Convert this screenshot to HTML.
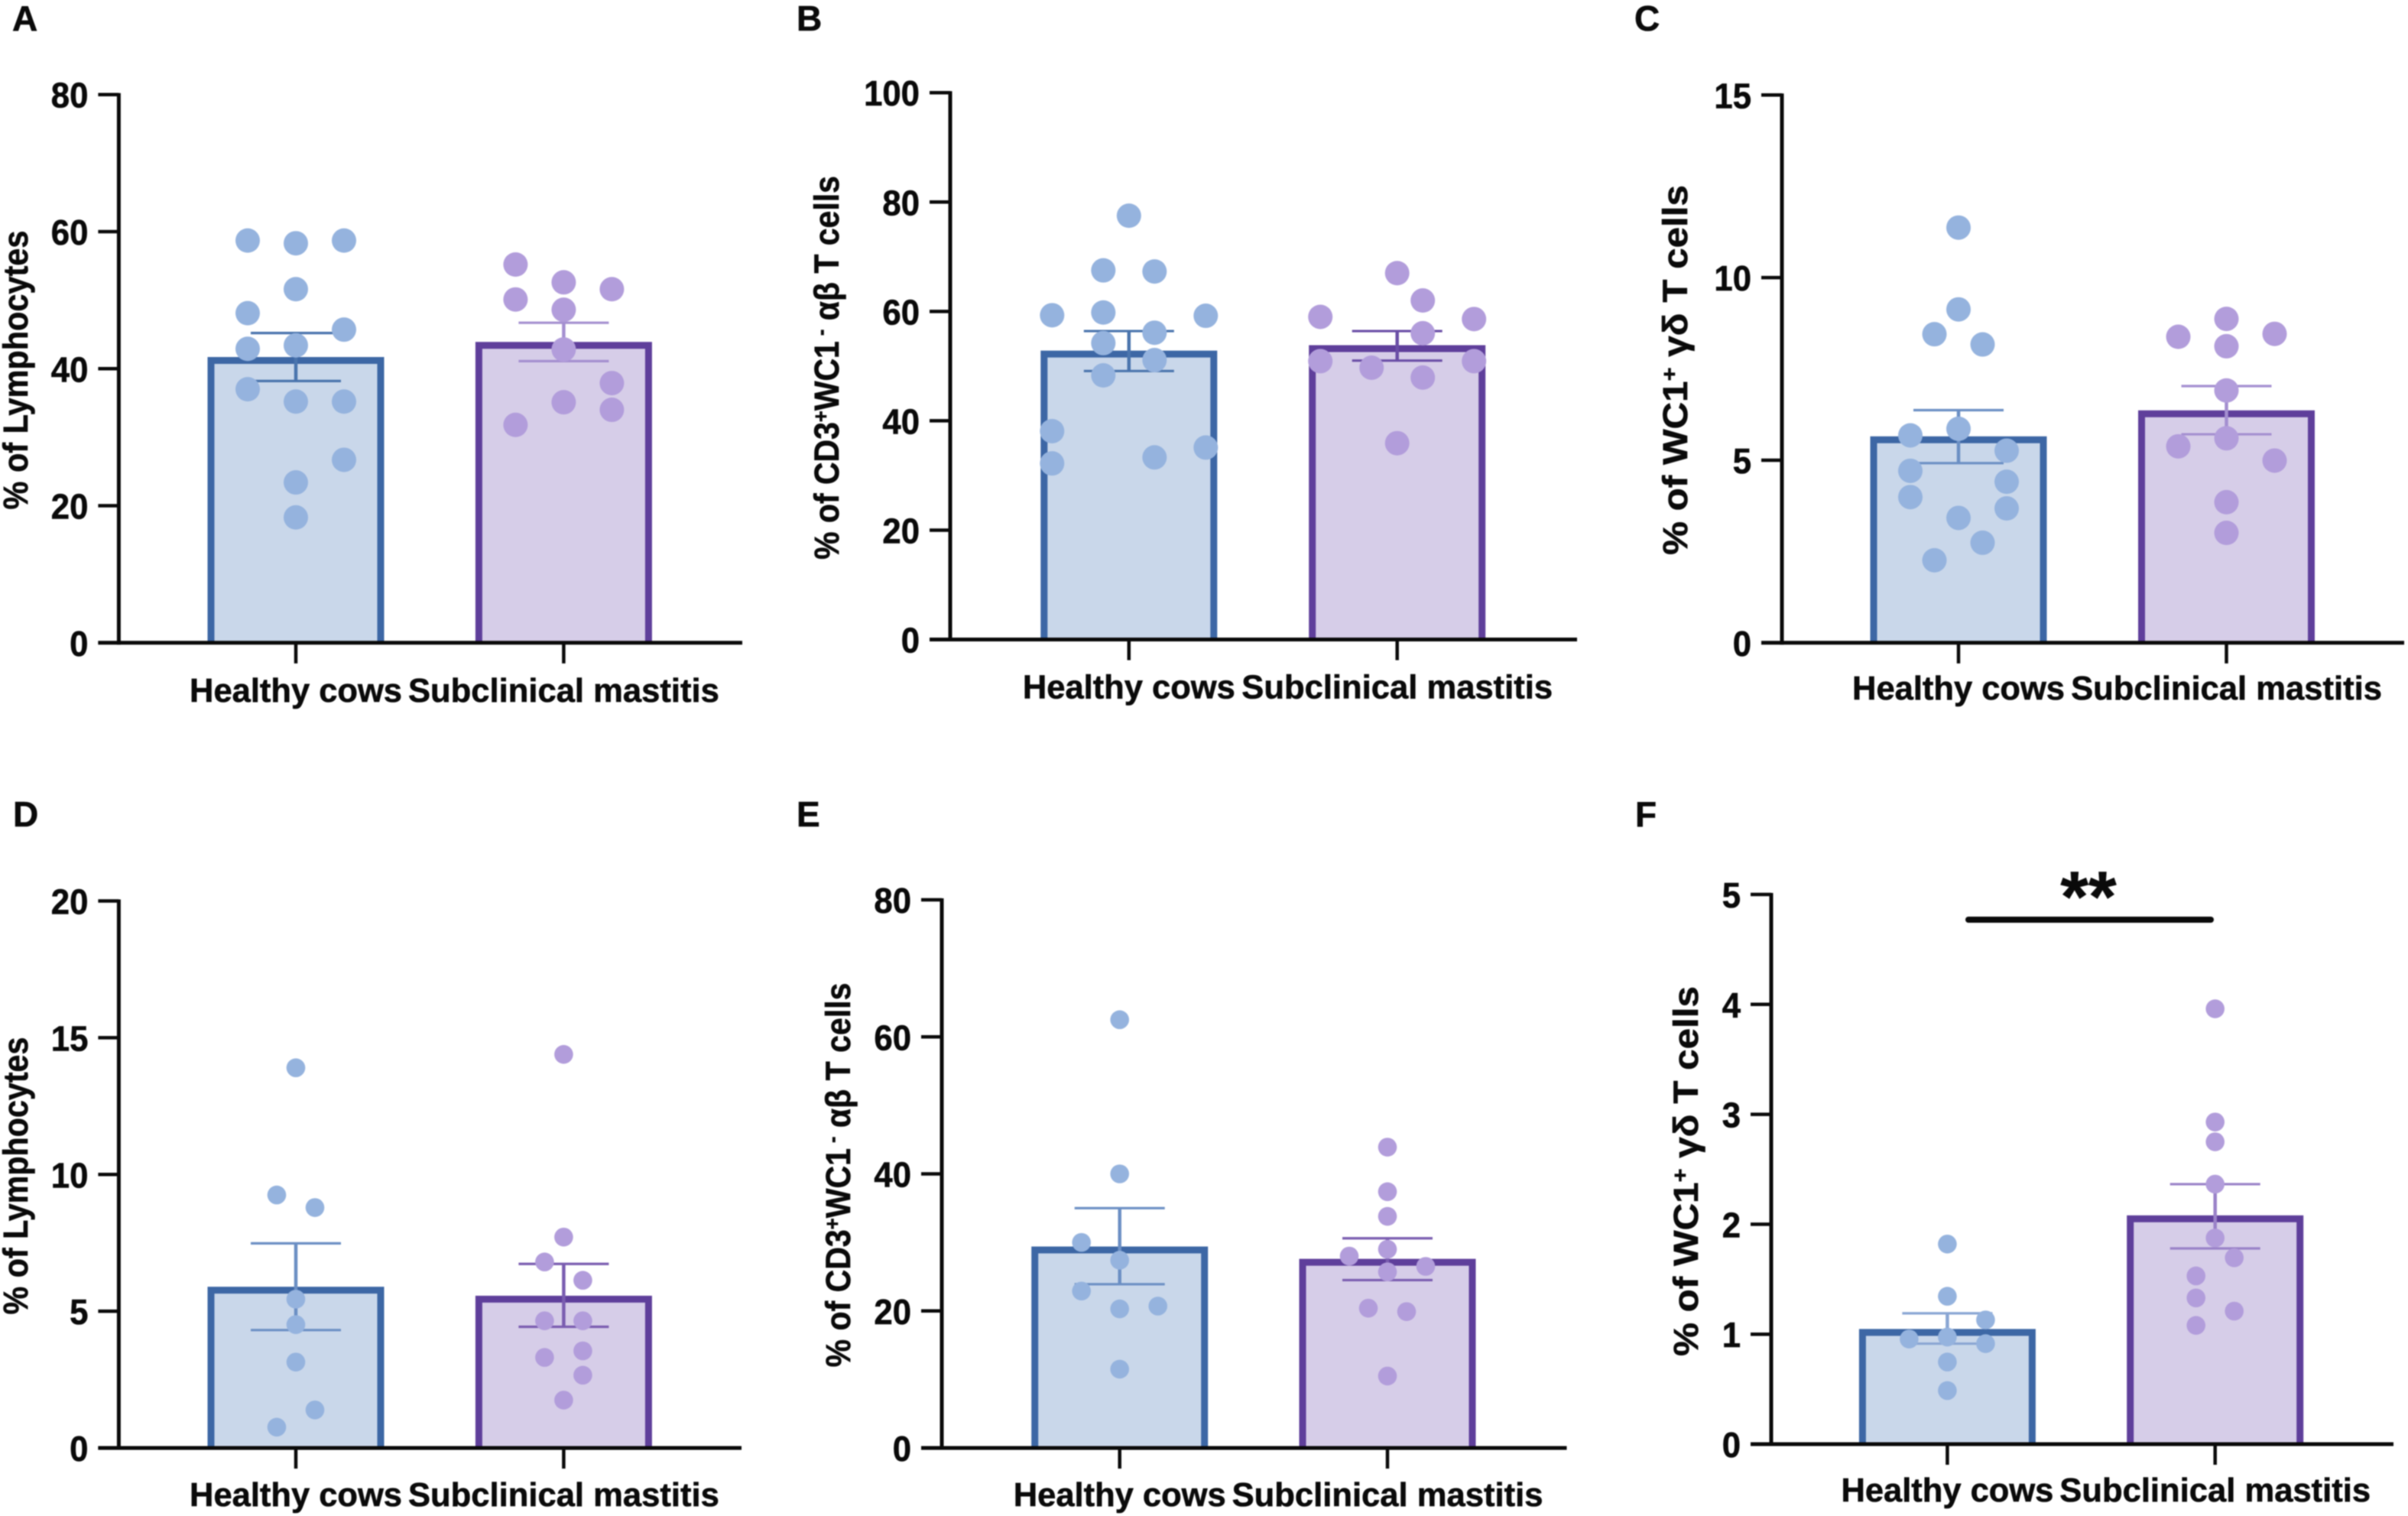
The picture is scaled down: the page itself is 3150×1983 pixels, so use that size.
<!DOCTYPE html>
<html lang="en">
<head>
<meta charset="utf-8">
<title>T cell percentages in healthy cows and subclinical mastitis</title>
<style>
html,body{margin:0;padding:0;background:#fff;}
body{width:3150px;height:1983px;overflow:hidden;}
svg{display:block;filter:blur(0.8px);}
text{font-family:"Liberation Sans",Arial,sans-serif;font-weight:700;fill:#0a0a0a;stroke:#0a0a0a;stroke-width:0.6px;}
.letter{font-size:46px;}
.ytitle{font-size:45px;}
.sup{font-size:28px;}
</style>
</head>
<body>
<svg id="figure" width="3150" height="1983" viewBox="0 0 3150 1983" xmlns="http://www.w3.org/2000/svg">
  <rect width="3150" height="1983" fill="#ffffff"/>

  <text class="letter" x="16" y="40">A</text>
  <text class="letter" x="1042" y="40">B</text>
  <text class="letter" x="2138" y="40">C</text>
  <text class="letter" x="17" y="1081">D</text>
  <text class="letter" x="1042" y="1081">E</text>
  <text class="letter" x="2139" y="1081">F</text>

  <text class="ytitle" data-fit="365" text-anchor="middle" transform="translate(36,484) rotate(-90)">% of Lymphocytes</text>
  <text class="ytitle" data-fit="502" text-anchor="middle" transform="translate(1097,481) rotate(-90)">% of CD3<tspan class="sup" dy="-14">+</tspan><tspan dy="14">WC1</tspan><tspan class="sup" dy="-14"> -</tspan><tspan dy="14"> αβ T cells</tspan></text>
  <text class="ytitle" data-fit="484" text-anchor="middle" transform="translate(2207,484) rotate(-90)">% of WC1<tspan class="sup" dy="-14">+</tspan><tspan dy="14"> γδ T cells</tspan></text>
  <text class="ytitle" data-fit="363" text-anchor="middle" transform="translate(36,1538) rotate(-90)">% of Lymphocytes</text>
  <text class="ytitle" data-fit="503" text-anchor="middle" transform="translate(1112,1537) rotate(-90)">% of CD3<tspan class="sup" dy="-14">+</tspan><tspan dy="14">WC1</tspan><tspan class="sup" dy="-14"> -</tspan><tspan dy="14"> αβ T cells</tspan></text>
  <text class="ytitle" data-fit="484" text-anchor="middle" transform="translate(2221,1532) rotate(-90)">% of WC1<tspan class="sup" dy="-14">+</tspan><tspan dy="14"> γδ T cells</tspan></text>

  <line x1="2575" y1="1203" x2="2892" y2="1203" stroke="#0a0a0a" stroke-width="8" stroke-linecap="round"/>
  <text x="2732" y="1205" text-anchor="middle" font-size="94">**</text>
</svg>

<script>
const categories = ['Healthy cows', 'Subclinical mastitis'];

const panelA_ticks = [0, 20, 40, 60, 80];
const panelA_means = [41.2, 43.4];
const panelA_errHigh = [45.2, 46.7];
const panelA_errLow = [38.2, 41.1];
const panelA_healthy = [58.7, 58.3, 58.7, 51.6, 48.1, 45.7, 42.9, 43.4, 37, 35.2, 35.2, 26.7, 23.4, 18.3];
const panelA_healthySlots = [-1, 0, 1, 0, -1, 1, -1, 0, -1, 0, 1, 1, 0, 0];
const panelA_mastitis = [55.2, 52.6, 51.6, 50.1, 48.6, 42.8, 37.9, 35.1, 34, 31.8];
const panelA_mastitisSlots = [-1, 0, 1, -1, 0, 0, 1, 0, 1, -1];

const panelB_ticks = [0, 20, 40, 60, 80, 100];
const panelB_means = [52.2, 53.2];
const panelB_errHigh = [56.4, 56.4];
const panelB_errLow = [49.1, 51];
const panelB_healthy = [77.5, 67.5, 67.3, 59.3, 59.8, 59.2, 56.1, 54.2, 51.1, 48.3, 38.1, 32.2, 35.1, 33.3];
const panelB_healthySlots = [0, -1, 1, -3, -1, 3, 1, -1, 1, -1, -3, -3, 3, 1];
const panelB_mastitis = [67, 62, 59, 58.6, 56, 50.9, 50.9, 49.7, 47.9, 35.9];
const panelB_mastitisSlots = [0, 1, -3, 3, 1, -3, 3, -1, 1, 0];

const panelC_ticks = [0, 5, 10, 15];
const panelC_means = [5.56, 6.27];
const panelC_errHigh = [6.37, 7.03];
const panelC_errLow = [4.92, 5.71];
const panelC_healthy = [11.37, 9.13, 8.45, 8.17, 5.86, 5.68, 5.26, 4.71, 4.41, 3.99, 3.68, 3.42, 2.74, 2.26];
const panelC_healthySlots = [0, 0, -1, 1, 0, -2, 2, -2, 2, -2, 2, 0, 1, -1];
const panelC_mastitis = [8.87, 8.46, 8.38, 8.12, 6.91, 5.6, 5.38, 4.99, 3.85, 3.01];
const panelC_mastitisSlots = [0, 2, -2, 0, 0, 0, -2, 2, 0, 0];

const panelD_ticks = [0, 5, 10, 15, 20];
const panelD_means = [5.77, 5.44];
const panelD_errHigh = [7.48, 6.73];
const panelD_errLow = [4.31, 4.43];
const panelD_healthy = [13.9, 9.25, 8.79, 5.44, 4.51, 3.14, 1.39, 0.76];
const panelD_healthySlots = [0, -1, 1, 0, 0, 0, 1, -1];
const panelD_mastitis = [14.39, 7.71, 6.8, 6.13, 4.65, 4.65, 3.55, 3.31, 2.66, 1.75];
const panelD_mastitisSlots = [0, 0, -1, 1, -1, 1, 1, -1, 1, 0];

const panelE_ticks = [0, 20, 40, 60, 80];
const panelE_means = [28.9, 27.1];
const panelE_errHigh = [35, 30.6];
const panelE_errLow = [23.9, 24.5];
const panelE_healthy = [62.5, 40, 30, 27.4, 22.9, 20.7, 20.3, 11.5];
const panelE_healthySlots = [0, 0, -2, 0, -2, 2, 0, 0];
const panelE_mastitis = [43.9, 37.4, 33.8, 29, 28, 26.5, 25.7, 20.4, 19.9, 10.5];
const panelE_mastitisSlots = [0, 0, 0, 0, -2, 2, 0, -1, 1, 0];

const panelF_ticks = [0, 1, 2, 3, 4, 5];
const panelF_means = [1.016, 2.05];
const panelF_errHigh = [1.19, 2.365];
const panelF_errLow = [0.914, 1.78];
const panelF_healthy = [1.82, 1.345, 1.13, 0.956, 0.974, 0.914, 0.747, 0.487];
const panelF_healthySlots = [0, 0, 2, -2, 0, 2, 0, 0];
const panelF_mastitis = [3.96, 2.93, 2.75, 2.365, 1.875, 1.695, 1.53, 1.33, 1.21, 1.08];
const panelF_mastitisSlots = [0, 0, 0, 0, 0, 1, -1, -1, 1, -1];

const panels = [
  {id:'a', left:155.4, top:123.7, bottom:840.8, right:971, centers:[387,737.4], slot:63, r:16, labelDy:77, errColors:['#4a74ad','#a48fd0'],
   ticks:panelA_ticks, means:panelA_means, high:panelA_errHigh, low:panelA_errLow,
   points:[panelA_healthy,panelA_mastitis], slots:[panelA_healthySlots,panelA_mastitisSlots]},
  {id:'b', left:1243, top:121.2, bottom:836.5, right:2063, centers:[1476.8,1827.7], slot:33.5, r:16, labelDy:77, errColors:['#4a74ad','#6a4ea6'],
   ticks:panelB_ticks, means:panelB_means, high:panelB_errHigh, low:panelB_errLow,
   points:[panelB_healthy,panelB_mastitis], slots:[panelB_healthySlots,panelB_mastitisSlots]},
  {id:'c', left:2331, top:124.3, bottom:840.8, right:3145, centers:[2562,2912.5], slot:31.5, r:16, labelDy:74, errColors:['#6b8fc4','#a48fd0'],
   ticks:panelC_ticks, means:panelC_means, high:panelC_errHigh, low:panelC_errLow,
   points:[panelC_healthy,panelC_mastitis], slots:[panelC_healthySlots,panelC_mastitisSlots]},
  {id:'d', left:155.4, top:1178.5, bottom:1894, right:970, centers:[387,737.4], slot:25, r:12.3, labelDy:76, errColors:['#6b8fc4','#7a5db0'],
   ticks:panelD_ticks, means:panelD_means, high:panelD_errHigh, low:panelD_errLow,
   points:[panelD_healthy,panelD_mastitis], slots:[panelD_healthySlots,panelD_mastitisSlots]},
  {id:'e', left:1232, top:1177, bottom:1894, right:2049.5, centers:[1464.7,1815], slot:25, r:12.3, labelDy:76, errColors:['#6b8fc4','#7a5db0'],
   ticks:panelE_ticks, means:panelE_means, high:panelE_errHigh, low:panelE_errLow,
   points:[panelE_healthy,panelE_mastitis], slots:[panelE_healthySlots,panelE_mastitisSlots]},
  {id:'f', left:2317, top:1170, bottom:1889, right:3131, centers:[2547.4,2897.7], slot:25, r:12.3, labelDy:75, errColors:['#8aa6d3','#9a82c8'],
   ticks:panelF_ticks, means:panelF_means, high:panelF_errHigh, low:panelF_errLow,
   points:[panelF_healthy,panelF_mastitis], slots:[panelF_healthySlots,panelF_mastitisSlots]}
];

const barFills = ['#c9d7ea', '#d6cde8'];
const barStrokes = ['#3d67a5', '#5f3f9b'];
const dotFills = ['#95b3de', '#b29ddb'];
const BAR_WIDTH = 222;
const SVG_NS = 'http://www.w3.org/2000/svg';
const svgRoot = document.getElementById('figure');

function mk(tag, attrs, parent) {
  const node = document.createElementNS(SVG_NS, tag);
  for (const k in attrs) node.setAttribute(k, attrs[k]);
  parent.appendChild(node);
  return node;
}

function fitText(node, target) {
  const natural = node.getComputedTextLength();
  const base = node.getAttribute('transform') || '';
  node.setAttribute('transform', base + ' scale(' + (target / natural) + ',1)');
}

function drawPanel(p) {
  const yMax = p.ticks[p.ticks.length - 1];
  const yScale = function (v) { return p.bottom - (v / yMax) * (p.bottom - p.top); };
  const xScale = function (catIndex) { return p.centers[catIndex]; };
  const slotX = function (catIndex, slot) { return xScale(catIndex) + slot * p.slot; };

  const g = mk('g', {}, svgRoot);
  
  

  categories.forEach(function (cat, c) {
    const cx = xScale(c);
    const yTop = yScale(p.means[c]);
    const bar = mk('path', {
      d: 'M' + (cx - BAR_WIDTH / 2) + ' ' + p.bottom + 'V' + yTop + 'H' + (cx + BAR_WIDTH / 2) + 'V' + p.bottom,
      fill: barFills[c], stroke: barStrokes[c], 'stroke-width': 9
    }, g);
    
    

    const stem = mk('line', {x1: cx, x2: cx, y1: yScale(p.high[c]), y2: yScale(p.low[c]), stroke: p.errColors[c], 'stroke-width': 4.5}, g);
    
    
    const capHigh = mk('line', {x1: cx - 59, x2: cx + 59, y1: yScale(p.high[c]), y2: yScale(p.high[c]), stroke: p.errColors[c], 'stroke-width': 3.2}, g);
    
    
    const capLow = mk('line', {x1: cx - 59, x2: cx + 59, y1: yScale(p.low[c]), y2: yScale(p.low[c]), stroke: p.errColors[c], 'stroke-width': 3.2}, g);
    
    

    p.points[c].forEach(function (v, i) {
      const dot = mk('circle', {cx: slotX(c, p.slots[c][i]), cy: yScale(v), r: p.r, fill: dotFills[c]}, g);
      
      
    });
  });

  const yAxis = mk('line', {x1: p.left, x2: p.left, y1: p.top - 2, y2: p.bottom + 2.5, stroke: '#0a0a0a', 'stroke-width': 5}, g);
  
  
  const xAxis = mk('line', {x1: p.left - 27, x2: p.right, y1: p.bottom, y2: p.bottom, stroke: '#0a0a0a', 'stroke-width': 5}, g);
  
  

  p.ticks.forEach(function (t) {
    const yy = yScale(t);
    const tick = mk('line', {x1: p.left - 27, x2: p.left, y1: yy, y2: yy, stroke: '#0a0a0a', 'stroke-width': 4.5}, g);
    
    
    const lab = mk('text', {'text-anchor': 'end', 'font-size': 46, transform: 'translate(' + (p.left - 40) + ',' + (yy + 17) + ') scale(0.95,1)'}, g);
    
    
    lab.textContent = String(t);
  });

  const labelWidths = [278, 407];
  categories.forEach(function (cat, c) {
    const cx = xScale(c);
    const tick = mk('line', {x1: cx, x2: cx, y1: p.bottom, y2: p.bottom + 27, stroke: '#0a0a0a', 'stroke-width': 4.5}, g);
    
    
    const lab = mk('text', {'text-anchor': 'middle', 'font-size': 44, transform: 'translate(' + cx + ',' + (p.bottom + p.labelDy) + ')'}, g);
    
    
    lab.textContent = cat;
    fitText(lab, labelWidths[c]);
  });
}

panels.forEach(drawPanel);

document.querySelectorAll('[data-fit]').forEach(function (node) {
  fitText(node, parseFloat(node.getAttribute('data-fit')));
});
</script>
</body>
</html>
